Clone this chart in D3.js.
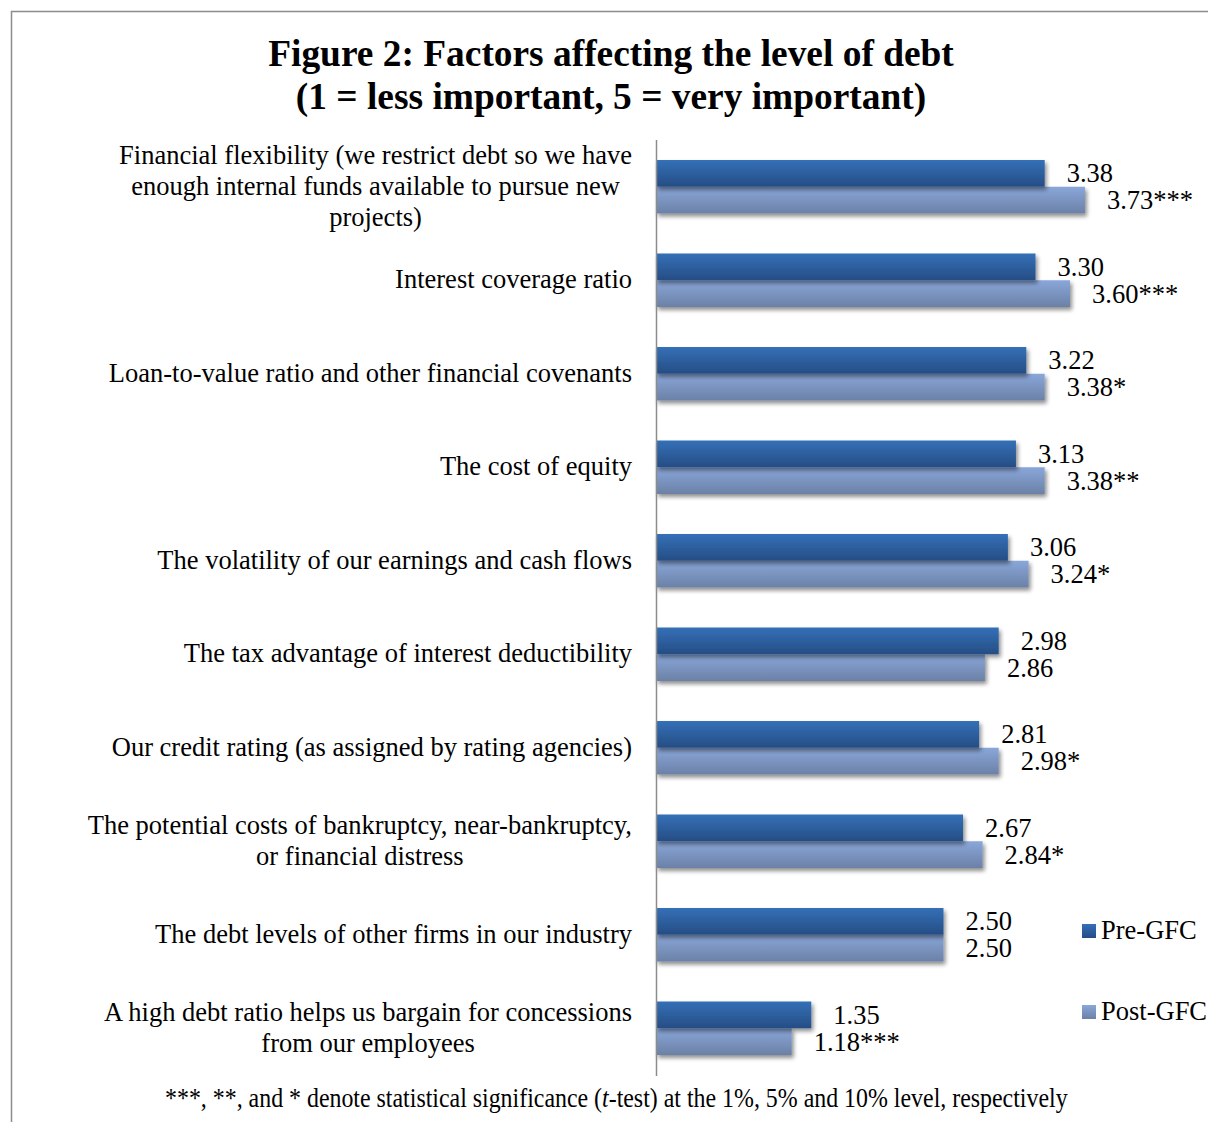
<!DOCTYPE html>
<html>
<head>
<meta charset="utf-8">
<script src="https://cdn.jsdelivr.net/npm/d3@7"></script>
<style>
  html, body { margin: 0; padding: 0; background: #fff; }
  svg { display: block; }
  text { font-family: "Liberation Serif", "Times New Roman", serif; fill: #000; }
</style>
</head>
<body>
<svg id="chart" width="1208" height="1122"></svg>
<script>
// Factor labels (each entry is its wrapped lines), top to bottom
const categories = [
  ["Financial flexibility (we restrict debt so we have", "enough internal funds available to pursue new", "projects)"],
  ["Interest coverage ratio"],
  ["Loan-to-value ratio and other financial covenants"],
  ["The cost of equity"],
  ["The volatility of our earnings and cash flows"],
  ["The tax advantage of interest deductibility"],
  ["Our credit rating (as assigned by rating agencies)"],
  ["The potential costs of bankruptcy, near-bankruptcy,", "or financial distress"],
  ["The debt levels of other firms in our industry"],
  ["A high debt ratio helps us bargain for concessions", "from our employees"]
];

const preGFC  = [3.38, 3.30, 3.22, 3.13, 3.06, 2.98, 2.81, 2.67, 2.50, 1.35];
const postGFC = [3.73, 3.60, 3.38, 3.38, 3.24, 2.86, 2.98, 2.84, 2.50, 1.18];
// Significance markers attached to the post-GFC means
const postStars = ["***", "***", "*", "**", "*", "", "*", "*", "", "***"];

const seriesNames = ["Pre-GFC", "Post-GFC"];
const titleLines = ["Figure 2: Factors affecting the level of debt", "(1 = less important, 5 = very important)"];
const footnoteParts = ["***, **, and * denote statistical significance (", "t", "-test) at the 1%, 5% and 10% level, respectively"];

const svg = d3.select("#chart");
const W = 1208, H = 1122;
const fontSize = 26.5;

// Frame lines along top and left edges
svg.append("line").attr("x1", 11).attr("x2", W).attr("y1", 11.5).attr("y2", 11.5)
  .attr("stroke", "#8c8c8c").attr("stroke-width", 1.5);
svg.append("line").attr("x1", 11.5).attr("x2", 11.5).attr("y1", 11).attr("y2", H)
  .attr("stroke", "#8c8c8c").attr("stroke-width", 1.5);

// Title
const title = svg.append("text").attr("text-anchor", "middle")
  .style("font-weight", "bold").style("font-size", "37.4px");
titleLines.forEach((t, i) => {
  title.append("tspan").attr("x", 611).attr("y", 66 + i * 43).text(t);
});

const defs = svg.append("defs");
function grad(id, top, bottom) {
  const g = defs.append("linearGradient").attr("id", id)
    .attr("x1", 0).attr("x2", 0).attr("y1", 0).attr("y2", 1);
  g.append("stop").attr("offset", "0%").attr("stop-color", top);
  g.append("stop").attr("offset", "100%").attr("stop-color", bottom);
}
grad("gPre", "#3470b8", "#264d84");
grad("gPost", "#8aa7da", "#6b81a6");

const shadow = defs.append("filter").attr("id", "shadow")
  .attr("x", "-5%").attr("y", "-30%").attr("width", "115%").attr("height", "180%");
shadow.append("feGaussianBlur").attr("in", "SourceAlpha").attr("stdDeviation", 2.2);
shadow.append("feOffset").attr("dx", 2).attr("dy", 3).attr("result", "off");
shadow.append("feComponentTransfer").append("feFuncA").attr("type", "linear").attr("slope", 0.45);
const merge = shadow.append("feMerge");
merge.append("feMergeNode");
merge.append("feMergeNode").attr("in", "SourceGraphic");

// Scales
const x0 = 656;
const x = d3.scaleLinear().domain([0, 4]).range([x0, x0 + 460]);
const y = d3.scaleBand().domain(d3.range(categories.length)).range([140, 1075]);
const sub = d3.scaleBand().domain([0, 1]).range([0, 53.5]);
const barOffset = (y.bandwidth() - 53.5) / 2;

const rows = svg.append("g").selectAll("g").data(categories).join("g")
  .attr("transform", (d, i) => `translate(0,${y(i) + barOffset})`);

const fills = ["url(#gPre)", "url(#gPost)"];
const vals = [preGFC, postGFC];

// Post bars first so the pre bar sits above its shadow
[1, 0].forEach(s => {
  rows.append("rect")
    .attr("x", x(0))
    .attr("y", sub(s))
    .attr("width", (d, i) => x(vals[s][i]) - x(0))
    .attr("height", sub.bandwidth())
    .attr("fill", fills[s])
    .attr("filter", "url(#shadow)");
});

// Value labels
[0, 1].forEach(s => {
  rows.append("text")
    .attr("x", (d, i) => x(vals[s][i]) + 22)
    .attr("y", sub(s) + sub.bandwidth() / 2 + 3)
    .attr("dominant-baseline", "middle")
    .style("font-size", fontSize + "px")
    .text((d, i) => vals[s][i].toFixed(2) + (s === 1 ? postStars[i] : ""));
});

// Vertical category axis line
svg.append("line").attr("x1", x0 + 0.5).attr("x2", x0 + 0.5).attr("y1", 140).attr("y2", 1076)
  .attr("stroke", "#8c8c8c").attr("stroke-width", 1.5);

// Category labels: wrapped lines centred in a block right-aligned to the axis
const labelRight = 632;
const lineH = 31;
const catG = svg.append("g");
categories.forEach((lines, i) => {
  const t = catG.append("text").style("font-size", fontSize + "px").attr("text-anchor", "middle");
  const spans = lines.map(l => t.append("tspan").text(l));
  const widths = spans.map(s => s.node().getComputedTextLength());
  const maxW = d3.max(widths);
  const cx = labelRight - maxW / 2;
  const cy = y(i) + y.bandwidth() / 2 + 2;
  const firstY = cy - (lines.length - 1) * lineH / 2;
  spans.forEach((s, k) => s.attr("x", cx).attr("y", firstY + k * lineH).attr("dominant-baseline", "middle"));
});

// Legend
const legend = svg.append("g");
const legendY = [931, 1012];
seriesNames.forEach((n, i) => {
  legend.append("rect").attr("x", 1082).attr("y", legendY[i] - 7).attr("width", 14).attr("height", 14)
    .attr("fill", fills[i]);
  legend.append("text").attr("x", 1101).attr("y", legendY[i] + 2).attr("dominant-baseline", "middle")
    .style("font-size", fontSize + "px").text(n);
});

// Footnote, horizontally condensed to its target width
const fnG = svg.append("g");
const fn = fnG.append("text").attr("x", 0).attr("y", 0).style("font-size", "28px");
footnoteParts.forEach((p, i) => {
  fn.append("tspan").style("font-style", i === 1 ? "italic" : null).text(p);
});
const fnW = fn.node().getComputedTextLength();
fnG.attr("transform", `translate(165,1107) scale(${903 / fnW},1)`);
</script>
</body>
</html>
